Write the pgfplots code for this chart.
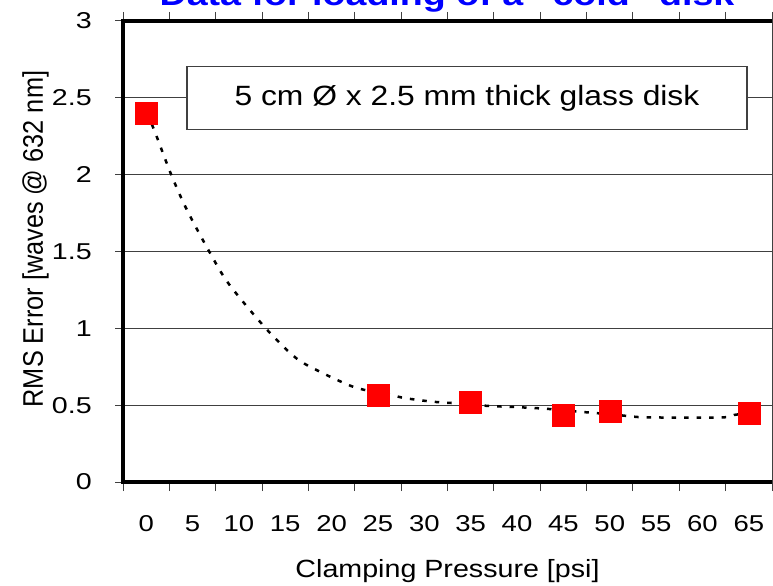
\documentclass[border=0pt]{standalone}
\usepackage{fontspec}
\setmainfont{Liberation Sans}
\usepackage{pgfplots}
\pgfplotsset{compat=1.18}
\definecolor{gridgray}{RGB}{64,64,64}
\begin{document}
\begin{tikzpicture}
\path[use as bounding box] (0,0) rectangle (773bp,586bp);
\node[anchor=base, text=blue, font=\fontsize{32}{38}\selectfont\bfseries] at (447bp,580bp) {\scalebox{1.18}[1]{Data for loading of a "cold" disk}};
\begin{axis}[
  at={(123bp,104bp)}, anchor=south west,
  scale only axis, width=649bp, height=461bp,
  xmin=-2.5, xmax=67.5, ymin=0, ymax=3,
  axis line style={draw=none},
  xtick={0,5,...,65},
  minor xtick={-2.5,2.5,...,67.5},
  ytick={0,0.5,...,3},
  tick align=outside,
  major tick length=8bp, minor tick length=9bp,
  major x tick style={draw=none},
  minor x tick style={gridgray, line width=1bp},
  ytick style={gridgray, line width=1bp},
  ymajorgrids,
  major grid style={gridgray, line width=1bp},
  /pgf/number format/assume math mode=true,
  tick label style={font=\fontsize{23}{27}\selectfont},
  xticklabel={\scalebox{1.2}[1]{\pgfmathprintnumber{\tick}}},
  yticklabel={\scalebox{1.25}[1]{\pgfmathprintnumber{\tick}}},
  xticklabel style={anchor=base, inner sep=0pt, yshift=-41bp},
  yticklabel style={anchor=east, inner sep=0pt, xshift=-23bp},
  xlabel={\scalebox{1.15}[1]{Clamping Pressure [psi]}},
  xlabel style={at={(axis description cs:0.5,-0.2082)}, anchor=base, inner sep=0pt, font=\fontsize{25}{30}\selectfont},
  ylabel={\scalebox{1}[1.12]{RMS Error [waves @ 632 nm]}},
  ylabel style={at={(axis description cs:-0.1233,0.527)}, anchor=base, inner sep=0pt, font=\fontsize{25.4}{30}\selectfont},
  clip=false,
]
\node[draw=gridgray, line width=1.5bp, fill=white, minimum width=560bp, minimum height=63bp, inner sep=0pt, font=\fontsize{28}{32}\selectfont] at (axis cs:34.6,2.5) {\scalebox{1.14}[1]{5 cm Ø x 2.5 mm thick glass disk}};
\addplot[only marks, mark=square*, mark size=11bp, mark options={fill=red, draw=red}] coordinates {
  (0,2.40) (25,0.565) (35,0.52) (45,0.435) (50,0.46) (65,0.447)
};
\addplot[black, line width=2.5bp, dash pattern=on 4.5bp off 8bp, smooth, tension=0.5, mark=none] coordinates {
  (0,2.40) (0.8,2.30) (2.7,2.0) (4.4,1.77) (6.8,1.5) (8.9,1.29) (12.9,1.0) (16.2,0.805) (19.1,0.707) (22.0,0.627) (23.5,0.60) (26.4,0.566) (28,0.545) (31,0.522) (34,0.51) (36.9,0.495) (39.7,0.488) (42.8,0.478) (44.4,0.47) (47.2,0.455) (50.2,0.44) (53,0.423) (54.7,0.42) (62,0.42) (63.4,0.436) (65,0.45)
};
\draw[gridgray, line width=1bp] (rel axis cs:1,0) -- (rel axis cs:1,1);
\draw[black, line width=3.5bp] (rel axis cs:1,1) -- (rel axis cs:0,1) -- (rel axis cs:0,0) -- (rel axis cs:1,0);
\end{axis}
\end{tikzpicture}
\end{document}
